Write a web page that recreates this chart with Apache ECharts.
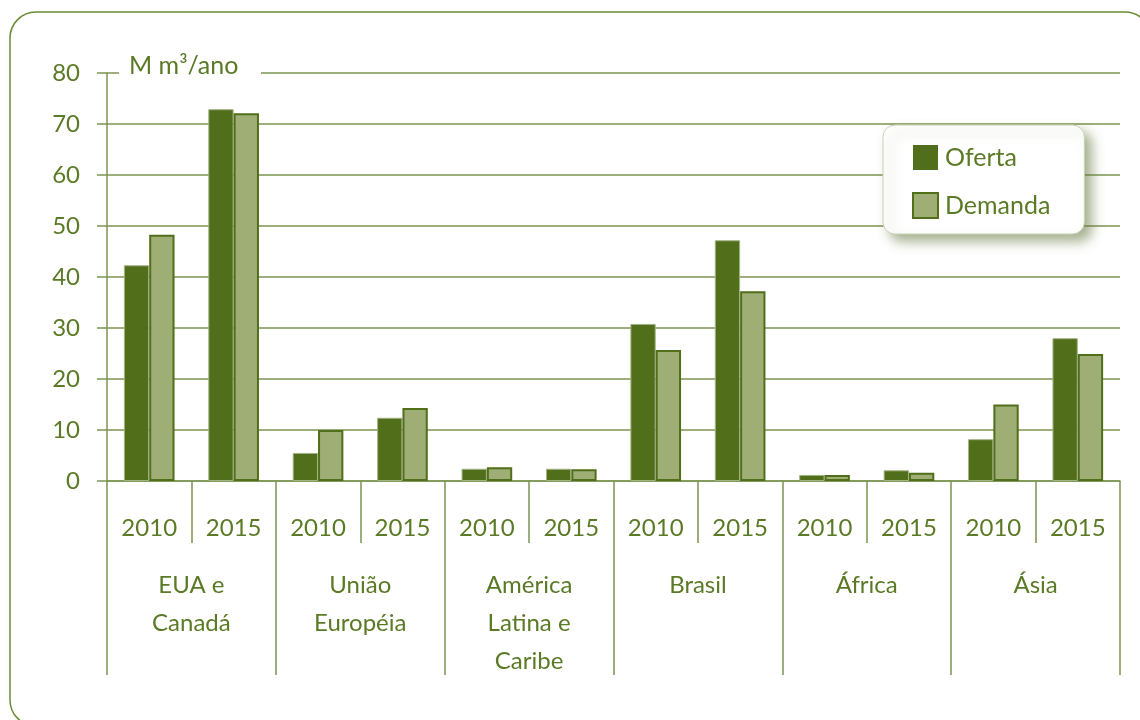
<!DOCTYPE html>
<html>
<head>
<meta charset="utf-8">
<style>
  html, body { margin: 0; padding: 0; background: #ffffff; }
  #chart { width: 1140px; height: 720px; }
</style>
<script src="https://cdn.jsdelivr.net/npm/echarts@6/dist/echarts.min.js"></script>
</head>
<body>
<div id="chart"></div>
<script>
// Regions (outer category level) and years (inner level)
const regions = ['EUA e\nCanadá', 'União\nEuropéia', 'América\nLatina e\nCaribe', 'Brasil', 'África', 'Ásia'];
const years = ['2010', '2015'];

// Values in millions of m³ per year, ordered region by region, 2010 then 2015
const oferta  = [42.3, 72.9, 5.5, 12.4, 2.4, 2.4, 30.8, 47.2, 1.2, 2.1, 8.2, 28.0];
const demanda = [48.3, 72.1, 10.0, 14.3, 2.7, 2.3, 25.7, 37.2, 1.2, 1.6, 15.0, 24.9];

// Value axis ticks
const yTicks = { min: 0, max: 80, interval: 10 };
const unitLabel = 'M m³/ano';

const DARK = '#516e1a';
const LIGHT = '#9eae74';
const LINE = '#7b9550';
const TEXT = '#5a7a25';
const FONT = 'Lato, "Open Sans", sans-serif';

// Inner category keys: one per region/year pair
const innerCats = [];
regions.forEach((r, i) => years.forEach(y => innerCats.push(i + '|' + y)));

const chart = echarts.init(document.getElementById('chart'), null, { renderer: 'canvas' });

chart.setOption({
  animation: false,
  backgroundColor: '#ffffff',
  textStyle: { fontFamily: FONT },
  grid: { left: 107, right: 20, top: 73, bottom: 239, containLabel: false },
  legend: {
    orient: 'vertical',
    left: 883,
    top: 125,
    padding: [20, 34, 15, 29],
    itemGap: 22,
    itemWidth: 25,
    itemHeight: 25,
    backgroundColor: '#ffffff',
    borderColor: '#c9d2b4',
    borderWidth: 1,
    borderRadius: 12,
    shadowColor: 'rgba(95,115,55,0.55)',
    shadowBlur: 12,
    shadowOffsetX: 7,
    shadowOffsetY: 7,
    textStyle: { color: TEXT, fontSize: 25, fontFamily: FONT, padding: [0, 0, 0, 2] },
    data: [
      { name: 'Oferta', icon: 'rect', itemStyle: { color: DARK, borderColor: DARK, borderWidth: 0 } },
      { name: 'Demanda', icon: 'rect', itemStyle: { color: LIGHT, borderColor: DARK, borderWidth: 2 } }
    ]
  },
  xAxis: [
    {
      type: 'category',
      data: innerCats,
      position: 'bottom',
      axisLine: { show: true, lineStyle: { color: LINE, width: 1.5 } },
      axisTick: { show: true, length: 62, interval: 0, lineStyle: { color: LINE, width: 1.5 } },
      axisLabel: {
        interval: 0,
        margin: 35,
        color: TEXT,
        fontSize: 24,
        fontFamily: FONT,
        formatter: v => v.split('|')[1]
      },
      splitLine: { show: false }
    },
    {
      type: 'category',
      data: regions,
      position: 'bottom',
      axisLine: { show: false },
      axisTick: { show: true, length: 194, interval: 0, lineStyle: { color: LINE, width: 1.5 } },
      axisLabel: {
        interval: 0,
        margin: 85,
        color: TEXT,
        fontSize: 24,
        lineHeight: 38,
        fontFamily: FONT
      },
      splitLine: { show: false }
    }
  ],
  yAxis: {
    type: 'value',
    min: yTicks.min,
    max: yTicks.max,
    interval: yTicks.interval,
    axisLine: { show: true, lineStyle: { color: LINE, width: 1.5 } },
    axisTick: { show: true, length: 10, lineStyle: { color: LINE, width: 1.5 } },
    axisLabel: { color: TEXT, fontSize: 24, margin: 27, fontFamily: FONT },
    splitLine: { show: true, lineStyle: { color: LINE, width: 1.5 } }
  },
  series: [
    {
      name: 'Oferta',
      type: 'bar',
      xAxisIndex: 0,
      data: oferta,
      barGap: '0%',
      barCategoryGap: '40%',
      itemStyle: { color: DARK, borderColor: '#a3b386', borderWidth: 1 }
    },
    {
      name: 'Demanda',
      type: 'bar',
      xAxisIndex: 0,
      data: demanda,
      barGap: '0%',
      barCategoryGap: '40%',
      itemStyle: { color: LIGHT, borderColor: DARK, borderWidth: 2 }
    }
  ],
  graphic: {
    elements: [
      {
        // rounded frame around the whole figure
        type: 'rect',
        z: 200,
        silent: true,
        shape: { x: 10, y: 12, width: 1141, height: 714, r: 26 },
        style: { fill: null, stroke: '#6a8a35', lineWidth: 1.5 }
      },
      {
        // white strip that interrupts the top gridline behind the unit caption
        type: 'rect',
        z: 200,
        silent: true,
        shape: { x: 119, y: 58, width: 142, height: 28 },
        style: { fill: '#ffffff' }
      },
      {
        type: 'text',
        z: 201,
        silent: true,
        x: 129,
        y: 66,
        style: {
          text: unitLabel,
          fill: TEXT,
          font: '25px ' + FONT,
          verticalAlign: 'middle',
          align: 'left'
        }
      }
    ]
  }
});
</script>
</body>
</html>
